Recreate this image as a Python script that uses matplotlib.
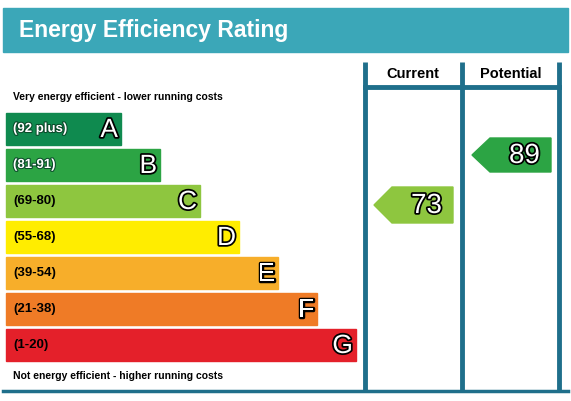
import matplotlib
matplotlib.use("Agg")
import matplotlib.pyplot as plt
from matplotlib.patches import Rectangle, Polygon
import matplotlib.patheffects as pe

ratings = ["A", "B", "C", "D", "E", "F", "G"]
ranges = ["(92 plus)", "(81-91)", "(69-80)", "(55-68)", "(39-54)", "(21-38)", "(1-20)"]
colors = ["#0f8a4f", "#2ca444", "#8ec63f", "#ffed00", "#f7ae2a", "#ef7b26", "#e4202a"]
band_right = [121, 160, 200, 239, 278, 317, 356]
current_value = 73
current_band = 2
potential_value = 89
potential_band = 1

fig = plt.figure(figsize=(5.71, 4.01), dpi=100)
ax = fig.add_axes([0, 0, 1, 1])
ax.set_xlim(0, 571)
ax.set_ylim(401, 0)
ax.axis("off")

teal = "#3ba7b8"
line = "#1f6f8b"
ax.add_patch(Rectangle((3, 8), 565, 44, color=teal))
ax.text(19, 31, "Energy Efficiency Rating", color="white", fontsize=16.5,
        fontweight="bold", va="center", ha="left", family="Liberation Sans")

for x in [365, 462, 559]:
    ax.plot([x, x], [62, 390], color=line, lw=3.5, solid_capstyle="butt")
ax.plot([365, 559], [87, 87], color=line, lw=3.5)
ax.plot([3, 568], [391, 391], color=line, lw=2.5)
ax.text(413, 74, "Current", fontsize=10.5, fontweight="bold", ha="center", va="center", family="Liberation Sans")
ax.text(511, 74, "Potential", fontsize=10.5, fontweight="bold", ha="center", va="center", family="Liberation Sans")

ax.text(13, 97, "Very energy efficient - lower running costs", fontsize=7.5,
        fontweight="bold", va="center", family="Liberation Sans")
ax.text(13, 376, "Not energy efficient - higher running costs", fontsize=7.5,
        fontweight="bold", va="center", family="Liberation Sans")

outline = [pe.withStroke(linewidth=2.5, foreground="black")]
for i, (r, lab, c, xr) in enumerate(zip(ratings, ranges, colors, band_right)):
    y0 = 113 + i * 36
    ax.add_patch(Rectangle((6, y0), xr - 6, 32, color=c))
    ax.text(13, y0 + 16, lab, fontsize=9.5, fontweight="bold", va="center",
            color="white" if i < 2 else "black", family="Liberation Sans",
            path_effects=[pe.withStroke(linewidth=1.5, foreground="#0a4a2a")] if i < 2 else None)
    ax.text(xr - 3, y0 + 17, r, fontsize=19, color="white", ha="right", va="center",
            family="Liberation Sans", path_effects=outline)

def arrow(xl, xr, yc, h, col, val):
    pts = [(xl, yc), (xl + 18, yc - h / 2), (xr, yc - h / 2), (xr, yc + h / 2), (xl + 18, yc + h / 2)]
    ax.add_patch(Polygon(pts, closed=True, color=col))
    ax.text((xl + 18 + xr) / 2 + 4, yc + 1, str(val), fontsize=20, color="white", ha="center",
            va="center", family="Liberation Sans", path_effects=outline)

arrow(374, 453, 113 + current_band * 36 + 20, 36, colors[current_band], current_value)
arrow(472, 551, 155, 34, colors[potential_band], potential_value)

fig.savefig("out.png", dpi=100)
